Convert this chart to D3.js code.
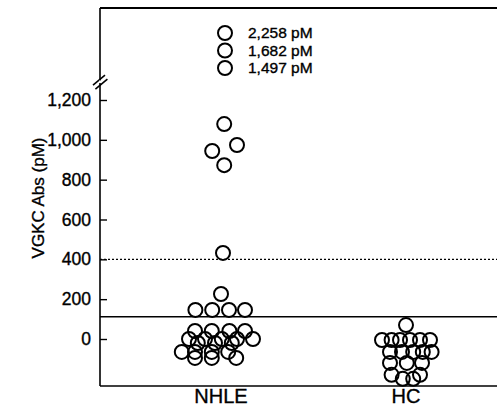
<!DOCTYPE html>
<html>
<head>
<meta charset="utf-8">
<script src="https://cdn.jsdelivr.net/npm/d3@7"></script>
<style>
  body { margin: 0; background: #fff; }
  text { font-family: "Liberation Sans", Arial, sans-serif; fill: #000; stroke: #000; stroke-width: 0.35px; }
</style>
</head>
<body>
<div class="chart"></div>
<script>
// Data
const groups = ['NHLE', 'HC'];

// NHLE values (pM) and horizontal jitter slots (roughly one radius per slot)
const nhleValues = [1079, 974, 944, 873, 432, 226,
  146, 146, 146, 146,
  40, 40, 40, 40,
  0, 0, 0, 0, 0,
  -20, -20, -20,
  -65, -65, -65, -65,
  -95, -95, -95];
const nhleSlots = [0.4, 2, -1.1, 0.4, 0.25, 0,
  -3.2, -1.1, 1, 3,
  -3.25, -1.15, 1.05, 3,
  -4, -2, 0.1, 2, 4,
  -2.9, -0.75, 1.35,
  -4.9, -3.25, -1.15, 0.9,
  -3.25, -1.15, 1.9];

// HC values (pM) and jitter slots
const hcValues = [70,
  -5, -5, -5, -5, -5, -5,
  -65, -65, -65, -65, -65,
  -120, -120, -120,
  -180, -180,
  -200, -200];
const hcSlots = [0,
  -3, -1.8, -0.75, 0.5, 1.75, 3,
  -2, -0.5, 0.9, 2.1, 3.2,
  -2, 0.1, 2,
  -1.8, 1.75,
  -0.4, 0.9];

// Off-scale NHLE values shown above the axis break
const outlierValues = [1497, 1682, 2258];
const outlierLabels = ['1,497 pM', '1,682 pM', '2,258 pM'];
const outlierSlots = [0.5, 0.5, 0.5];

const yTicks = [0, 200, 400, 600, 800, 1000, 1200];
const cutoffValue = 112;   // solid line
const upperValue = 400;    // dotted line

// Margin convention
const margin = { top: 8, right: 0, bottom: 30, left: 100 };
const outerWidth = 497;
const outerHeight = 416;
const innerWidth = outerWidth - margin.left - margin.right;
const innerHeight = 386 - margin.top;

const svg = d3.select('.chart')
  .append('svg')
    .attr('width', outerWidth)
    .attr('height', outerHeight);

const chartG = svg.append('g')
  .attr('transform', `translate(${margin.left},${margin.top})`);

// Scales
const x = d3.scalePoint().domain(groups).range([121, 306]);
const y = d3.scaleLinear().domain([-236, 1200]).range([innerHeight, 92]);
const yTop = d3.scalePoint().domain(outlierValues).range([60, 25]);
const jitter = d3.scaleLinear().domain([-1, 1]).range([-8, 8]);

// Frame lines
chartG.append('line')
  .attr('x1', 0).attr('x2', innerWidth)
  .attr('y1', 0).attr('y2', 0)
  .attr('stroke', '#000').attr('stroke-width', 2);
chartG.append('line')
  .attr('x1', 0).attr('x2', innerWidth)
  .attr('y1', innerHeight).attr('y2', innerHeight)
  .attr('stroke', '#000').attr('stroke-width', 1.6);
chartG.append('line')
  .attr('x1', 0).attr('x2', 0)
  .attr('y1', 0).attr('y2', innerHeight)
  .attr('stroke', '#000').attr('stroke-width', 1.6);

// Axis break marks
const yBreak = y(1300);
[0, 4].forEach(off => {
  chartG.append('line')
    .attr('x1', -7 + off * 0.6).attr('y1', yBreak + 5 + off)
    .attr('x2', 5 + off * 0.6).attr('y2', yBreak - 5 + off)
    .attr('stroke', '#000').attr('stroke-width', 1.6);
});
// white gap between the slashes
chartG.append('line')
  .attr('x1', 0).attr('x2', 0)
  .attr('y1', yBreak + 0.5).attr('y2', yBreak + 3)
  .attr('stroke', '#fff').attr('stroke-width', 2);

// Y axis
const yAxis = d3.axisLeft(y)
  .tickValues(yTicks)
  .tickSize(-7)
  .tickPadding(9)
  .tickFormat(d3.format(','));

const yAxisG = chartG.append('g').call(yAxis);
yAxisG.select('.domain').remove();
yAxisG.selectAll('.tick line').attr('stroke', '#000').attr('stroke-width', 1.4);
yAxisG.selectAll('.tick text')
  .attr('font-size', 17.5)
  .attr('font-family', '"Liberation Sans", Arial, sans-serif')
  .attr('fill', '#000');

// Axis title
svg.append('text')
  .attr('transform', `translate(44,198) rotate(-90)`)
  .attr('text-anchor', 'middle')
  .attr('font-size', 17)
  .text('VGKC Abs (pM)');

// Category labels
chartG.selectAll('.group-label')
  .data(groups)
  .enter().append('text')
    .attr('class', 'group-label')
    .attr('x', d => x(d))
    .attr('y', innerHeight + 17)
    .attr('text-anchor', 'middle')
    .attr('font-size', 20)
    .text(d => d);

// Reference lines
chartG.append('line')
  .attr('x1', 0).attr('x2', innerWidth)
  .attr('y1', y(cutoffValue)).attr('y2', y(cutoffValue))
  .attr('stroke', '#000').attr('stroke-width', 1.6);
chartG.append('line')
  .attr('x1', 0).attr('x2', innerWidth)
  .attr('y1', y(upperValue)).attr('y2', y(upperValue))
  .attr('stroke', '#000').attr('stroke-width', 1.2)
  .attr('stroke-dasharray', '2,2');

// Points
const pointData = [];
nhleValues.forEach((v, i) => pointData.push({ group: 'NHLE', value: v, slot: nhleSlots[i] }));
hcValues.forEach((v, i) => pointData.push({ group: 'HC', value: v, slot: hcSlots[i] }));

const r = 7;
chartG.selectAll('.dot')
  .data(pointData)
  .enter().append('circle')
    .attr('class', 'dot')
    .attr('cx', d => x(d.group) + jitter(d.slot))
    .attr('cy', d => y(d.value))
    .attr('r', r)
    .attr('fill', 'none')
    .attr('stroke', '#000')
    .attr('stroke-width', 2);

// Off-scale points with labels
const outliers = outlierValues.map((v, i) => ({ value: v, label: outlierLabels[i], slot: outlierSlots[i] }));

chartG.selectAll('.outlier')
  .data(outliers)
  .enter().append('circle')
    .attr('class', 'outlier')
    .attr('cx', d => x('NHLE') + jitter(d.slot))
    .attr('cy', d => yTop(d.value))
    .attr('r', r)
    .attr('fill', 'none')
    .attr('stroke', '#000')
    .attr('stroke-width', 2);

chartG.selectAll('.outlier-label')
  .data(outliers)
  .enter().append('text')
    .attr('class', 'outlier-label')
    .attr('x', x('NHLE') + 27)
    .attr('y', d => yTop(d.value) + 5)
    .attr('font-size', 15.5)
    .text(d => d.label);
</script>
</body>
</html>
